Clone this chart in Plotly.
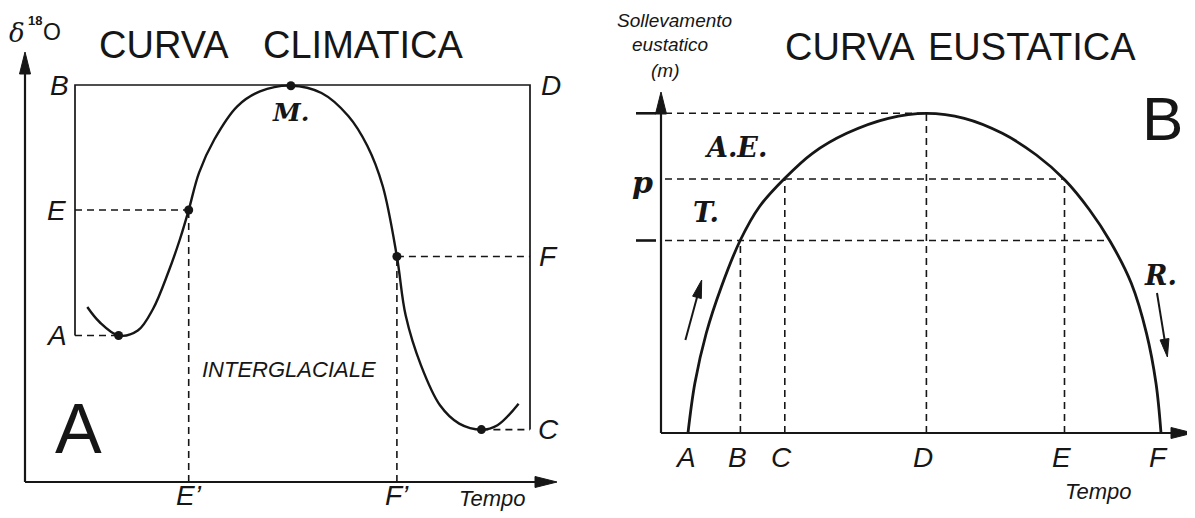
import math
import plotly.graph_objects as go

# ---------------- Panel A: CURVA CLIMATICA ----------------
# time (arbitrary units) vs delta18O (arbitrary units)
clim_t = [6.23, 7.45, 9.36, 11.28, 12.8, 14.34, 15.5, 16.37, 17.4, 18.93, 21.23, 23.5,
          26.59, 29.65, 32.33, 34.24, 35.77, 37.19, 38.07, 39.6, 41.5, 43.42, 45.64, 47.25, 49.36]
clim_d18o = [17.5, 16.0, 14.65, 15.14, 17.3, 21.0, 24.3, 27.2, 30.92, 34.25, 37.57, 39.06,
             39.63, 38.9, 36.6, 33.6, 29.6, 22.55, 16.64, 11.66, 7.67, 5.84, 5.24, 5.68, 7.83]

key_a_names = ["A", "E", "M", "F", "C"]
key_a_t = [9.36, 16.37, 26.59, 37.19, 45.64]
key_a_d18o = [14.65, 27.2, 39.63, 22.55, 5.24]

box_left_t = 5.0
box_right_t = 50.5
level_B = 39.7      # = level D (top of box)

axis_a_x_end = 53.2
axis_a_y_end = 43.0

# ---------------- Panel B: CURVA EUSTATICA ----------------
eus_t = [2.7, 3.39, 4.53, 6.04, 7.94, 9.84, 12.38, 15.15, 18.57, 22.74, 26.54, 30.33,
         34.13, 37.54, 40.39, 42.86, 44.94, 47.03, 48.55, 49.5, 50.0]
eus_h = [0.0, 5.0, 10.0, 14.63, 19.3, 22.63, 25.47, 27.97, 29.97, 31.47, 31.97, 31.47,
         29.97, 27.8, 25.3, 22.3, 19.13, 14.97, 9.97, 4.97, 0.0]

time_names_b = ["A", "B", "C", "D", "E", "F"]
time_b = [2.7, 7.94, 12.38, 26.54, 40.35, 50.0]
level_top = 31.97
level_p = 25.4
level_low = 19.25
right_low_t = 44.94

axis_b_x_end = 53.2
axis_b_y_end = 34.1

y_title_lines = ["Sollevamento", "eustatico", "(m)"]

INK = "#161616"
SANS = "Liberation Sans, Arial, sans-serif"
SERIF = "DejaVu Serif, serif"

fig = go.Figure()

def line(x, y, xa, ya, width=1.6, dash=None, color=INK, shape="linear"):
    fig.add_trace(go.Scatter(x=x, y=y, xaxis=xa, yaxis=ya, mode="lines",
                             line=dict(color=color, width=width, dash=dash, shape=shape),
                             hoverinfo="skip", showlegend=False))

def arrow(x0, y0, x1, y1, xa, ya, width=2.2, length=2.2, half=0.55):
    """Straight arrow from (x0,y0) to tip (x1,y1) with a narrow filled head."""
    dx, dy = x1 - x0, y1 - y0
    d = math.hypot(dx, dy)
    ux, uy = dx / d, dy / d
    bx, by = x1 - length * ux, y1 - length * uy
    nx, ny = -uy, ux
    line([x0, bx + 0.3 * ux], [y0, by + 0.3 * uy], xa, ya, width=width)
    fig.add_trace(go.Scatter(x=[x1, bx + half * nx, bx - half * nx, x1],
                             y=[y1, by + half * ny, by - half * ny, y1],
                             xaxis=xa, yaxis=ya, mode="lines", fill="toself",
                             fillcolor=INK, line=dict(color=INK, width=1),
                             hoverinfo="skip", showlegend=False))

DASH = "7px,5px"

# ---- Panel A drawing ----
arrow(0, 0, 0, axis_a_y_end, "x", "y")
arrow(0, 0, axis_a_x_end, 0, "x", "y")

lvl = dict(zip(key_a_names, key_a_d18o))
tt = dict(zip(key_a_names, key_a_t))
# box (solid)
line([box_left_t, box_left_t, box_right_t, box_right_t],
     [lvl["A"], level_B, level_B, lvl["C"]], "x", "y", width=1.7)
# dashed guides
line([box_left_t, tt["A"]], [lvl["A"], lvl["A"]], "x", "y", dash=DASH)
line([box_left_t, tt["E"]], [lvl["E"], lvl["E"]], "x", "y", dash=DASH)
line([tt["F"], box_right_t], [lvl["F"], lvl["F"]], "x", "y", dash=DASH)
line([tt["C"], box_right_t], [lvl["C"], lvl["C"]], "x", "y", dash=DASH)
line([tt["E"], tt["E"]], [0, lvl["E"]], "x", "y", dash=DASH)
line([tt["F"], tt["F"]], [0, lvl["F"]], "x", "y", dash=DASH)
# curve
line(clim_t, clim_d18o, "x", "y", width=2.4, shape="spline")
fig.add_trace(go.Scatter(x=key_a_t, y=key_a_d18o, xaxis="x", yaxis="y", mode="markers",
                         marker=dict(color=INK, size=9), hoverinfo="skip", showlegend=False))

# ---- Panel B drawing ----
arrow(0, 0, 0, axis_b_y_end, "x2", "y2")
arrow(0, 0, axis_b_x_end, 0, "x2", "y2")
for lv in (level_top, level_low):
    line([-2.5, -0.5], [lv, lv], "x2", "y2", width=2.6)

tb = dict(zip(time_names_b, time_b))
line([0.4, tb["D"]], [level_top, level_top], "x2", "y2", dash=DASH)
line([0.4, tb["E"]], [level_p, level_p], "x2", "y2", dash=DASH)
line([0.4, right_low_t], [level_low, level_low], "x2", "y2", dash=DASH)
line([tb["B"], tb["B"]], [0, level_low], "x2", "y2", dash=DASH)
line([tb["C"], tb["C"]], [0, level_p], "x2", "y2", dash=DASH)
line([tb["D"], tb["D"]], [0, level_top], "x2", "y2", dash=DASH)
line([tb["E"], tb["E"]], [0, level_p], "x2", "y2", dash=DASH)
line(eus_t, eus_h, "x2", "y2", width=2.8, shape="spline")
# movement arrows (rise / fall)
arrow(2.44, 9.3, 4.07, 15.3, "x2", "y2", width=2.0, length=1.8, half=0.45)
arrow(49.6, 14.0, 50.64, 7.6, "x2", "y2", width=2.0, length=1.8, half=0.45)

# ---------------- Text ----------------
ann = []
def text(x, y, s, xr="x", yr="y", size=24, family=SANS, style="normal", weight="normal",
         xanchor="center", yanchor="middle"):
    ann.append(dict(x=x, y=y, xref=xr, yref=yr, text=s, showarrow=False,
                    xanchor=xanchor, yanchor=yanchor, borderpad=0,
                    font=dict(size=size, family=family, color=INK, style=style, weight=weight)))

ITAL_SERIF = dict(family=SERIF, style="italic", weight="bold")

# panel A text (delta-18-O written as three pieces)
text(-0.8, 44.9, "δ", size=26, family=SERIF, style="italic")
text(0.95, 46.2, "18", size=13, weight="bold")
text(2.65, 45.0, "O", size=23)
text(13.9, 43.7, "CURVA", size=38)
text(33.8, 43.7, "CLIMATICA", size=38)
text(3.4, level_B, "B", size=28, style="italic")
text(3.1, lvl["E"], "E", size=28, style="italic")
text(3.1, lvl["A"], "A", size=28, style="italic")
text(52.6, level_B, "D", size=28, style="italic")
text(52.3, lvl["F"], "F", size=28, style="italic")
text(52.3, lvl["C"], "C", size=28, style="italic")
text(tt["E"], -1.3, "E’", size=28, style="italic")
text(tt["F"], -1.3, "F’", size=28, style="italic")
text(46.7, -1.6, "Tempo", size=22, style="italic")
text(tt["M"], 37.0, "M.", size=25, **ITAL_SERIF)
text(26.4, 11.3, "INTERGLACIALE", size=22, style="italic")
text(5.3, 5.3, "A", size=70)

# panel B text
for s, xx, yy in zip(y_title_lines, [1.3, 0.9, 0.4], [41.3, 38.9, 36.3]):
    text(xx, yy, s, xr="x2", yr="y2", size=19, style="italic")
text(18.85, 38.6, "CURVA", xr="x2", yr="y2", size=38)
text(37.05, 38.6, "EUSTATICA", xr="x2", yr="y2", size=38)
text(50.1, 31.5, "B", xr="x2", yr="y2", size=62)
text(-1.9, level_p - 0.3, "p", xr="x2", yr="y2", size=30, **ITAL_SERIF)
text(7.4, 28.6, "A.E.", xr="x2", yr="y2", size=27, **ITAL_SERIF)
text(4.5, 22.1, "T.", xr="x2", yr="y2", size=27, **ITAL_SERIF)
text(49.9, 15.8, "R.", xr="x2", yr="y2", size=27, **ITAL_SERIF)
for n, t in zip(time_names_b, time_b):
    text(t - 0.3, -2.4, n, xr="x2", yr="y2", size=28, style="italic")
text(43.7, -5.8, "Tempo", xr="x2", yr="y2", size=22, style="italic")

# The page body has an 8px margin, so the figure is 8px smaller and axis ranges start 8px in.
W, H = 1187, 510
hidden = dict(visible=False, showgrid=False, zeroline=False, fixedrange=True)
fig.update_layout(
    width=W, height=H, margin=dict(l=0, r=0, t=0, b=0),
    paper_bgcolor="white", plot_bgcolor="white", showlegend=False,
    xaxis=dict(domain=[0, 592 / W], range=[-1.7, 57.5], **hidden),
    yaxis=dict(domain=[0, 1], range=[-3.6, 47.4], **hidden),
    xaxis2=dict(domain=[592 / W, 1], range=[-6.1, 53.4], **hidden),
    yaxis2=dict(domain=[0, 1], range=[-8.5, 42.5], anchor="x2", **hidden),
    annotations=ann,
)
fig.write_html("out.html")
